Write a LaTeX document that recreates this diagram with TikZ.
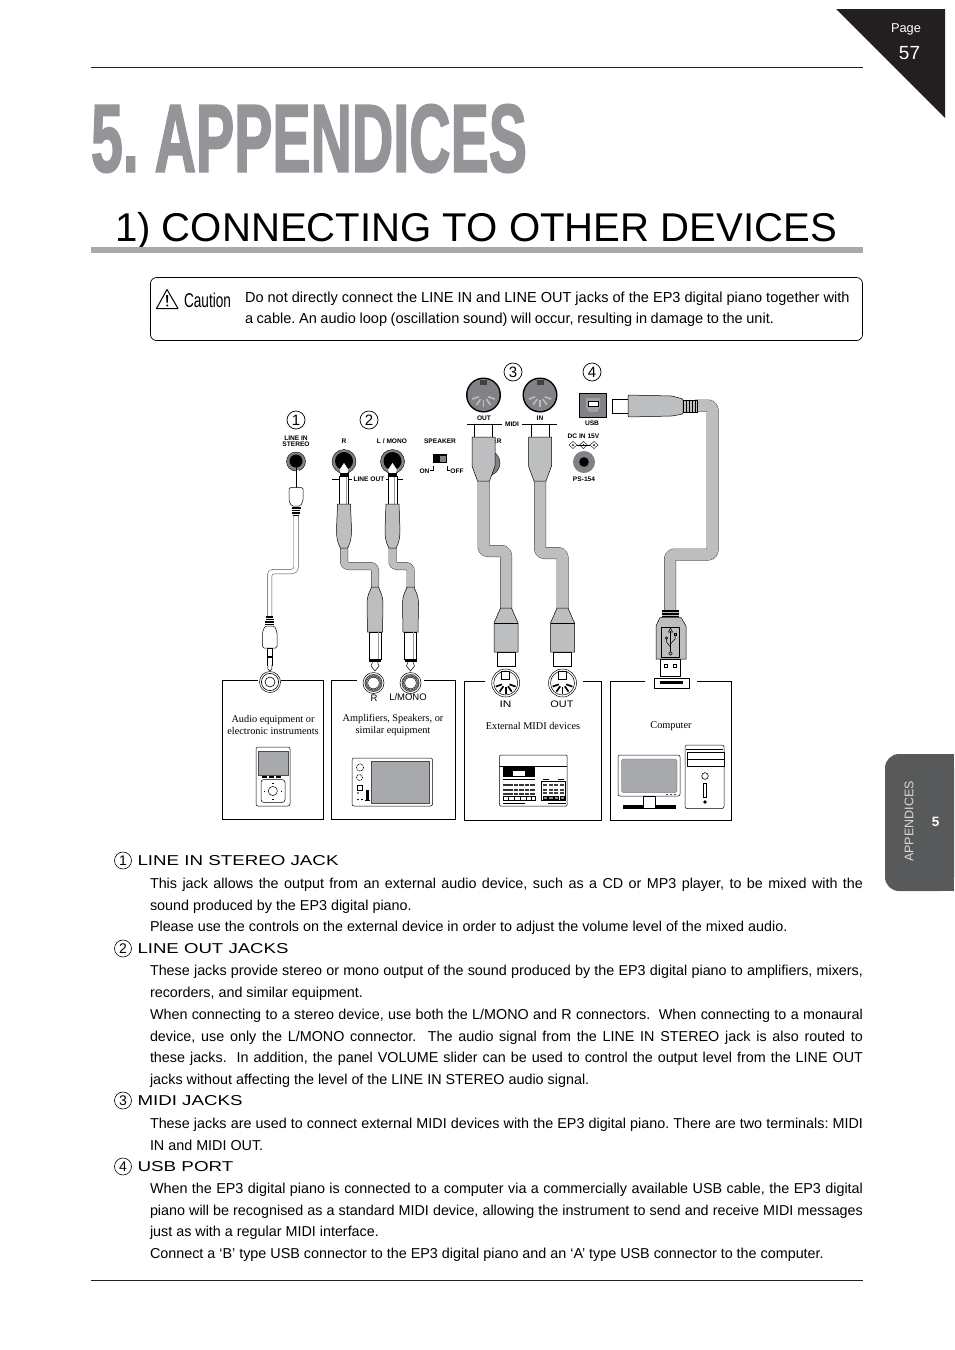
\documentclass[tikz,border=0pt]{standalone}
\usepackage{fontspec}
\usepackage{graphicx}
\setmainfont{Liberation Sans}
\newfontfamily\serifface{Liberation Serif}
\newfontfamily\titleface{Liberation Sans Bold}[FakeBold=2.2]
\AtBeginDocument{\frenchspacing}
\definecolor{titlegray}{HTML}{939598}
\definecolor{rulegray}{HTML}{A7A9AC}
\definecolor{cablegray}{HTML}{BCBEC0}
\definecolor{jackgray}{HTML}{808285}
\definecolor{inkblack}{HTML}{231F20}
\definecolor{tabgray}{HTML}{58595B}
\definecolor{screengray}{HTML}{A7A9AC}
\newcommand{\fs}[1]{\fontsize{#1}{#1}\selectfont}
\newcommand{\J}[1]{\makebox[713pt][s]{#1}}
\tikzset{
  txt/.style={inner sep=0pt,outer sep=0pt},
  panellabel/.style={txt,font=\fs{6.6}\bfseries,align=center},
  boxlabel/.style={txt,font=\serifface\fs{10.3},align=center},
  plaquelabel/.style={txt,font=\fs{9.5}},
  cnum/.style={draw=black,circle,line width=0.7pt,minimum size=18pt,inner sep=0pt,font=\fs{15}},
  snum/.style={draw=black,circle,line width=0.6pt,minimum size=17pt,inner sep=0pt,font=\fs{14}},
  bodytext/.style={txt,anchor=north west,align=left,font=\fontsize{14.35}{21.75}\selectfont},
  head/.style={txt,anchor=west},
  devbox/.style={line width=0.7pt,draw=black},
  cableo/.style={line width=#1+1pt,draw=black!70,rounded corners=4pt},
  cablei/.style={line width=#1,draw=cablegray,rounded corners=4pt},
  part/.style={draw=black,line width=0.5pt,fill=cablegray},
  wpart/.style={draw=black,line width=0.5pt,fill=white},
  dev/.style={draw=black,line width=0.5pt,fill=white,rounded corners=2pt},
  scr/.style={fill=screengray,draw=black!70,line width=0.3pt},
}
\newcommand{\cable}[2]{\draw[cableo=#1,line join=round] #2; \draw[cablei=#1,line join=round] #2;}
\newcommand{\upmidi}[2]{%
  \begin{scope}[shift={(#1,#2)}]
    \fill[black] (0,0) circle (17.5);
    \fill[jackgray] (0,0) circle (16);
    \fill[black!75] (-3.5,-15.5) rectangle (3.5,-10);
    \foreach \a in {20,55,90,125,160}{\draw[cablegray,line width=1.6pt] ({cos(\a)*5},{sin(\a)*5}) -- ({cos(\a)*12},{sin(\a)*12});}
  \end{scope}}
\newcommand{\lowmidi}[2]{%
  \begin{scope}[shift={(#1,#2)}]
    \draw[fill=white,line width=0.5pt] (0,0) circle (14);
    \draw[line width=0.5pt] (0,0) circle (12);
    \draw[line width=0.6pt,fill=white] (-4,-11.5) rectangle (4,-4);
    \foreach \a in {20,55,90,125,160}{\draw[black,line width=1.7pt] ({cos(\a)*4},{sin(\a)*4}) -- ({cos(\a)*10.5},{sin(\a)*10.5});}
  \end{scope}}
\newcommand{\phplug}[3]{% x upper, x lower, bend y
  \cable{7pt}{(#1,540) -- (#1,#3) -- (#2,#3) -- (#2,595)}
  \draw[wpart] (#1-4.5,476) rectangle (#1+4.5,506);
  \draw[black!40,line width=0.4pt] (#1+2,476) -- (#1+2,506);
  \draw[white,fill=white,line width=0.5pt] (#1-3,473.5) -- (#1-4,469.5) -- (#1,463.5) -- (#1+4,469.5) -- (#1+3,473.5) -- cycle;
  \fill[black] (#1-4.5,473) rectangle (#1+4.5,476.5);
  \draw[part] (#1-6.5,504) -- (#1+6.5,504) -- (#1+7.5,530) .. controls (#1+7.5,542) and (#1+4.5,546) .. (#1+3.5,548) -- (#1-3.5,548) .. controls (#1-4.5,546) and (#1-7.5,542) .. (#1-7.5,530) -- cycle;
  \draw[part] (#2-7.5,632) -- (#2+7.5,632) -- (#2+8,604) .. controls (#2+8,594) and (#2+4,590) .. (#2+3.5,587) -- (#2-3.5,587) .. controls (#2-4,590) and (#2-8,594) .. (#2-8,604) -- cycle;
  \draw[wpart] (#2-6,632) rectangle (#2+6,659);
  \draw[black!40,line width=0.4pt] (#2+3,632) -- (#2+3,659);
  \fill[black] (#2-6,659) rectangle (#2+6,662);
  \draw[line width=0.5pt] (#2-2.5,662) -- (#2-4,666) -- (#2,671) -- (#2+4,666) -- (#2+2.5,662);
}
\newcommand{\jackring}[2]{%
  \draw[fill=white,line width=0.5pt] (#1,#2) circle (10.5);
  \draw[line width=2.4pt,black!70] (#1,#2) circle (7.7);
  \draw[white,line width=0.3pt,dash pattern=on 1pt off 1pt] (#1,#2) circle (7.7);
  \draw[fill=white,line width=0.5pt] (#1,#2) circle (5.8);
}
\newcommand{\midiplug}[4]{% x upper, x lower, bendy, up half-width
  \cable{11pt}{(#1,478) -- (#1,#3) -- (#2,#3) -- (#2,612)}
  \draw[wpart] (#1-#4+2.5,424) rectangle (#1+#4-2.5,437);
  \draw[part] (#1-#4,437) -- (#1+#4,437) -- (#1+#4,466) -- (#1+6,481) -- (#1-6,481) -- (#1-#4,466) -- cycle;
  \draw[wpart] (#2-9,652) rectangle (#2+9,666);
  \draw[part] (#2-5.5,608) -- (#2+5.5,608) -- (#2+12,623) -- (#2+12,652) -- (#2-12,652) -- (#2-12,623) -- cycle;
  \draw[line width=0.5pt] (#2-12,623) -- (#2+12,623);
}
\begin{document}
\begin{tikzpicture}[x=1pt,y=-1pt]
\useasboundingbox (0,0) rectangle (954,1350);
\fill[white] (0,0) rectangle (954,1350);
% page furniture
\draw[line width=0.8pt,inkblack] (91,67.7) -- (863,67.7);
\draw[line width=0.8pt,inkblack] (91,1280.7) -- (863,1280.7);
\fill[inkblack] (836,9) -- (945,9) -- (945,118) -- cycle;
\node[txt,text=white,font=\fs{12.8}] (pg) at (906,29.5) {Page};
\node[txt,text=white,font=\fs{19}] (pgn) at (909.5,53) {57};
\node[txt,anchor=north west,text=titlegray] (title) at (91,104.5) {\resizebox{436pt}{67pt}{\titleface 5. APPENDICES}};
\node[txt,anchor=south west] (sub) at (115,250) {\resizebox{722pt}{!}{\fs{40}1) CONNECTING TO OTHER DEVICES}};
\fill[rulegray] (91,247) rectangle (863,252.5);
\fill[tabgray,rounded corners=14pt] (954,754) -- (885,754) -- (885,891) -- (954,891) -- cycle;
\fill[tabgray] (930,754) rectangle (954,891);
\node[txt,rotate=90,text=white!85!black,font=\fs{12.5}] (tabt) at (909,821.5) {APPENDICES};
\node[txt,text=white,font=\fs{13.5}\bfseries] (tabn) at (935.5,822) {5};
% caution
\draw[line width=0.7pt,rounded corners=6pt] (150.5,277.5) rectangle (862.5,340.5);
\draw[line width=1pt,line join=round] (167,289.5) -- (178,308.5) -- (156.5,308.5) -- cycle;
\fill (166,295) -- (168.2,295) -- (167.7,303) -- (166.6,303) -- cycle;
\fill (167.2,305.5) circle (1.1);
\node[txt,anchor=west] (caut) at (184,300) {\resizebox{47pt}{14.5pt}{Caution}};
\node[txt,anchor=north west,align=left,font=\fontsize{14.54}{21.3}\selectfont] (cauttxt) at (245,292) {Do not directly connect the LINE IN and LINE OUT jacks of the EP3 digital piano together with\\\makebox[529pt][s]{a cable. An audio loop (oscillation sound) will occur, resulting in damage to the unit.}};
% sockets on panel
\node[cnum] (n1) at (296,420) {1};
\node[cnum] (n2) at (369,420) {2};
\node[cnum] (n3) at (513,372) {3};
\node[cnum] (n4) at (592,372) {4};
\node[panellabel] (l1) at (296,441.5) {LINE IN\\[-0.5pt]STEREO};
\node[panellabel] (l2) at (344,441) {R};
\node[panellabel] (l3) at (392,441) {L / MONO};
\node[panellabel] (l4) at (440,441) {SPEAKER};
\node[panellabel] (l5) at (424.5,471) {ON};
\node[panellabel] (l6) at (457,471) {OFF};
\node[panellabel] (lo) at (369,479) {LINE OUT};
\node[panellabel] (lo1) at (497,441) {ER};
\fill[black] (433,454) rectangle (447,463);
\fill[jackgray] (440,455.5) rectangle (446,461.5);
\draw[line width=0.4pt] (430,470) -- (433,470) -- (433,466);
\draw[line width=0.4pt] (450,470) -- (447,470) -- (447,466);
\draw[line width=0.7pt] (332,479) -- (352,479);
\draw[line width=0.7pt] (386,479) -- (403,479);
\foreach \x/\r/\s in {296/9.5/6.5,344/12/9,392.5/12/9}{
  \fill[jackgray] (\x,461.5) circle (\r);
  \draw[line width=0.4pt] (\x,461.5) circle (\r);
  \fill[black] (\x,461) circle (\s);
}
% power jack behind MIDI plug
\fill[jackgray] (487,463) circle (13);
\draw[line width=0.4pt] (487,463) circle (13);
\fill[black] (487,463) circle (8);
% upper MIDI
\upmidi{483.5}{395}
\upmidi{540}{395}
\node[panellabel] (mo) at (484,418) {OUT};
\node[panellabel] (mi) at (540,418) {IN};
\node[panellabel] (mm) at (512,424) {MIDI};
\draw[line width=0.7pt] (467,424) -- (502,424);
\draw[line width=0.7pt] (522,424) -- (557,424);
% USB + DC
\draw[line width=1.2pt,fill=jackgray] (579.5,393.5) rectangle (606.5,417.5);
\fill[black!15!cablegray] (586,398) -- (600,398) -- (600,407) -- (597,412) -- (589,412) -- (586,407) -- cycle;
\draw[wpart] (588,401.5) rectangle (598,406);
\node[panellabel] (usb) at (592,423) {USB};
\node[panellabel] (dc) at (583.5,436) {DC IN 15V};
\foreach \x/\t in {573/--,583.5/c,594/+}{
  \draw[line width=0.4pt] (\x-4,445) -- (\x,441.5) -- (\x+4,445) -- (\x,448.5) -- cycle;
  \fill (\x,445) circle (1);
}
\draw[line width=0.4pt] (577,445) -- (590,445);
\fill[jackgray] (584,462) circle (11);
\fill[black] (584,462) circle (4.8);
\node[panellabel] (ps) at (584,479) {PS-154};
% line-in cable
\draw[line width=5pt,black!70,rounded corners=4pt] (296,515) -- (296,571.5) -- (269.5,571.5) -- (269.5,618);
\draw[line width=4pt,white,rounded corners=4pt] (296,515) -- (296,571.5) -- (269.5,571.5) -- (269.5,618);
\draw[line width=1pt] (296,465) -- (296,488);
\draw[line width=2.2pt,white] (298,470) -- (298,488);
\draw[wpart,rounded corners=1.5pt] (289,487.5) -- (303,487.5) -- (303,501) -- (300.5,506) -- (291.5,506) -- (289,501) -- cycle;
\foreach \y in {508,510.5,513,515.5}{\draw[line width=1.2pt] ({296-4.5+(\y-508)*0.15},\y) -- ({296+4.5-(\y-508)*0.15},\y);}
\foreach \y in {617,619.5,622,624.5}{\draw[line width=1.2pt] ({269.7-3.5-(\y-617)*0.15},\y) -- ({269.7+3.5+(\y-617)*0.15},\y);}
\draw[wpart,rounded corners=1.5pt] (265,626) -- (274.5,626) -- (277,632) -- (277,648) -- (262.5,648) -- (262.5,632) -- cycle;
\draw[wpart] (267.5,648) rectangle (272,665);
\fill[black] (267.5,656) rectangle (272,657.5);
\draw[wpart] (267.8,665) -- (267.8,669) -- (269.8,671) -- (271.8,669) -- (271.8,665);
% phone plugs
\phplug{344}{375}{566}
\phplug{392.5}{410.5}{566}
% midi plugs
\midiplug{483.5}{506}{551}{11.5}
\midiplug{540}{562.5}{553}{11.5}
% usb cable
\cable{11pt}{(695,405.5) -- (712.5,405.5) -- (712.5,554.5) -- (670,554.5) -- (670,612)}
\draw[wpart] (612,399) rectangle (628.5,413);
\draw[part,rounded corners=1pt] (628,395) -- (672,396) -- (683,399) -- (683,414) -- (672,416) -- (628,417) -- cycle;
\draw[part] (683,400.5) rectangle (697,412);
\foreach \x in {686,689,692,695}{\draw[line width=0.8pt] (\x,400.5) -- (\x,412);}
% usb A plug
\draw[wpart] (660.5,659) rectangle (680.5,676.5);
\draw[line width=0.5pt] (664.5,664.5) rectangle (667.5,667.5);
\draw[line width=0.5pt] (673.5,664.5) rectangle (676.5,667.5);
\fill[black] (662,610) rectangle (679,617);
\foreach \y in {612.5,615}{\draw[cablegray,line width=0.4pt] (662,\y) -- (679,\y);}
\draw[part] (660,617.5) -- (681,617.5) -- (686,626) -- (686,659) -- (656,659) -- (656,626) -- cycle;
\draw[line width=0.5pt] (661.5,627) rectangle (679.5,657);
\draw[line width=0.5pt] (670.5,631) -- (670.5,652);
\draw[line width=0.5pt] (668.5,632) -- (670.5,628) -- (672.5,632) -- cycle;
\draw[line width=0.5pt] (670.5,647) -- (666.5,642) -- (666.5,638);
\draw[line width=0.5pt] (670.5,644) -- (675,639) -- (675,635);
\draw[line width=0.5pt] (666.5,638) circle (1.3);
\draw[line width=0.5pt] (673.8,633) rectangle (676.2,635);
\draw[line width=0.5pt] (670.5,653.5) circle (1.7);
\draw[wpart] (654.5,678) rectangle (689,688.5);
\fill[black] (659.5,681) rectangle (683,684);
% lower jacks
\draw[fill=white,line width=0.5pt] (270,682) circle (10.5);
\draw[line width=0.6pt] (270,682) circle (8.6);
\draw[line width=0.6pt] (270,682) circle (5);
\jackring{373.5}{683}
\jackring{410.5}{683}
\lowmidi{505.7}{683}
\lowmidi{562.5}{683}
\node[plaquelabel] (lr) at (374,698.5) {R};
\node[plaquelabel] (ll) at (408,697) {L/MONO};
\node[plaquelabel] (li) at (505.5,704) {\scalebox{1.25}[1]{IN}};
\node[plaquelabel] (lt) at (562,704) {\scalebox{1.15}[1]{OUT}};
% device boxes
\draw[devbox] (258,680.5) -- (222.3,680.5) -- (222.3,819.5) -- (323.5,819.5) -- (323.5,680.5) -- (280.5,680.5);
\draw[devbox] (357,680.5) -- (331.5,680.5) -- (331.5,819.5) -- (455.5,819.5) -- (455.5,680.5) -- (424,680.5);
\draw[devbox] (485,681) -- (464.5,681) -- (464.5,820) -- (601,820) -- (601,681) -- (583,681);
\draw[devbox] (645,681) -- (610.5,681) -- (610.5,820) -- (731.5,820) -- (731.5,681) -- (697,681);
\node[boxlabel] (b1) at (273,725) {Audio equipment or\\[2.5pt]electronic instruments};
\node[boxlabel] (b2) at (393,725) {Amplifiers, Speakers, or\\[2.5pt]similar equipment};
\node[boxlabel] (b3) at (533,726) {External MIDI devices};
\node[boxlabel] (b4) at (671,726.5) {Computer};
% iPod
\draw[dev] (256,747) rectangle (290,806);
\fill[scr] (258.5,751) rectangle (288,775.5);
\foreach \x in {262,269,276}{\fill (\x,775.5) rectangle (\x+5,777.5);}
\draw[dev,rounded corners=3pt] (261,779.5) rectangle (285,802.5);
\draw[line width=0.5pt] (272.8,791) circle (4.6);
\fill (271.5,782.5) rectangle (274,783.5);
\fill (271.5,799) rectangle (274,799.8);
\fill (264,791) rectangle (265,791.8);
\fill (281,791) rectangle (282,791.8);
% amplifier
\draw[dev] (352,758) rectangle (432.5,806);
\fill[scr] (371,761) rectangle (429.5,803);
\draw[line width=0.7pt,dash pattern=on 1pt off 0.8pt] (360,767.5) circle (3.6);
\draw[line width=0.7pt,dash pattern=on 1pt off 0.8pt] (359.5,777.5) circle (3);
\draw[line width=0.6pt] (357,785) rectangle (362,790);
\fill (358,793) circle (0.8);
\fill (358,799.5) circle (0.8);
\fill (361,798.5) rectangle (362.5,800);
\fill (366,790) rectangle (369,800);
\fill (364.5,800) rectangle (370,801);
% MIDI device
\draw[dev,rounded corners=1pt] (499.5,755) rectangle (567,806);
\draw[line width=0.5pt] (499.5,766.5) -- (567,766.5);
\fill[black] (503,767) rectangle (535,777);
\fill[white] (513,771) rectangle (525,776);
\draw[line width=0.4pt] (503,779.5) -- (535,779.5);
\foreach \y in {784,789,793}{\foreach \i in {0,...,5}{\fill[black!80] ({503+\i*5.4},\y) rectangle ({503+\i*5.4+4.5},\y+2.2);}}
\draw[line width=0.4pt] (503,796.5) rectangle (535,800);
\foreach \x in {508,514,520,526,531}{\draw[line width=0.4pt] (\x,796.5) -- (\x,800);}
\draw[line width=0.7pt] (503,803.5) -- (525,803.5);
\draw[line width=0.7pt] (548,803.5) -- (566,803.5);
\draw[line width=0.5pt] (541,781) rectangle (565,800.5);
\fill (543,778.5) rectangle (549,779.3);
\fill (558,778.5) rectangle (564,779.3);
\foreach \y in {784,788.5,792}{\foreach \i in {0,...,3}{\fill[black!75] ({543+\i*5.6},\y) rectangle ({543+\i*5.6+4.2},\y+2);}}
\foreach \i in {0,...,3}{\draw[line width=0.5pt,fill=black!45] ({543+\i*5.6},796) rectangle ({543+\i*5.6+4.2},799.5);}
% computer
\draw[dev] (618,755) rectangle (680,796);
\fill[scr,rounded corners=1.5pt] (621.5,759) rectangle (677,792.5);
\foreach \x in {666,670,674}{\fill[black!70] (\x,793.8) rectangle (\x+2,795);}
\fill[black] (623,805) rectangle (676,809);
\draw[wpart] (643.5,796) rectangle (655,808.5);
\draw[dev] (685,745) rectangle (724,808.5);
\draw[line width=0.7pt] (686,749) -- (723,749);
\draw[line width=0.5pt,fill=white] (687,752.5) rectangle (724,759);
\draw[line width=0.5pt,fill=white] (687,759) rectangle (724,766);
\draw[line width=0.6pt] (705,776) circle (3.3);
\draw[line width=0.5pt] (703.7,783) rectangle (706.3,797);
\fill (705,802) circle (1.8);
% text
\foreach \y/\nm/\w/\t in {860/1/201/LINE IN STEREO JACK,948/2/151/LINE OUT JACKS,1100/3/105/MIDI JACKS,1166/4/96/USB PORT}{
  \node[snum] (s\nm) at (123,\y+0.5) {\nm};
  \node[head] (h\nm) at (137.5,\y+1) {\resizebox{\w pt}{10pt}{\fs{13}\t}};
}
\node[bodytext] (t1) at (150,878) {\J{This jack allows the output from an external audio device, such as a CD or MP3 player, to be mixed with the}\\sound produced by the EP3 digital piano.\\Please use the controls on the external device in order to adjust the volume level of the mixed audio.};
\node[bodytext] (t2) at (150,965.5) {\J{These jacks provide stereo or mono output of the sound produced by the EP3 digital piano to amplifiers, mixers,}\\recorders, and similar equipment.\\\J{When connecting to a stereo device, use both the L/MONO and R connectors.\ \ When connecting to a monaural}\\\J{device, use only the L/MONO connector.\ \ The audio signal from the LINE IN STEREO jack is also routed to}\\\J{these jacks.\ \ In addition, the panel VOLUME slider can be used to control the output level from the LINE OUT}\\jacks without affecting the level of the LINE IN STEREO audio signal.};
\node[bodytext] (t3) at (150,1118) {\J{These jacks are used to connect external MIDI devices with the EP3 digital piano. There are two terminals: MIDI}\\IN and MIDI OUT.};
\node[bodytext] (t4) at (150,1183) {\J{When the EP3 digital piano is connected to a computer via a commercially available USB cable, the EP3 digital}\\\J{piano will be recognised as a standard MIDI device, allowing the instrument to send and receive MIDI messages}\\just as with a regular MIDI interface.\\Connect a ‘B’ type USB connector to the EP3 digital piano and an ‘A’ type USB connector to the computer.};
\end{tikzpicture}
\end{document}
